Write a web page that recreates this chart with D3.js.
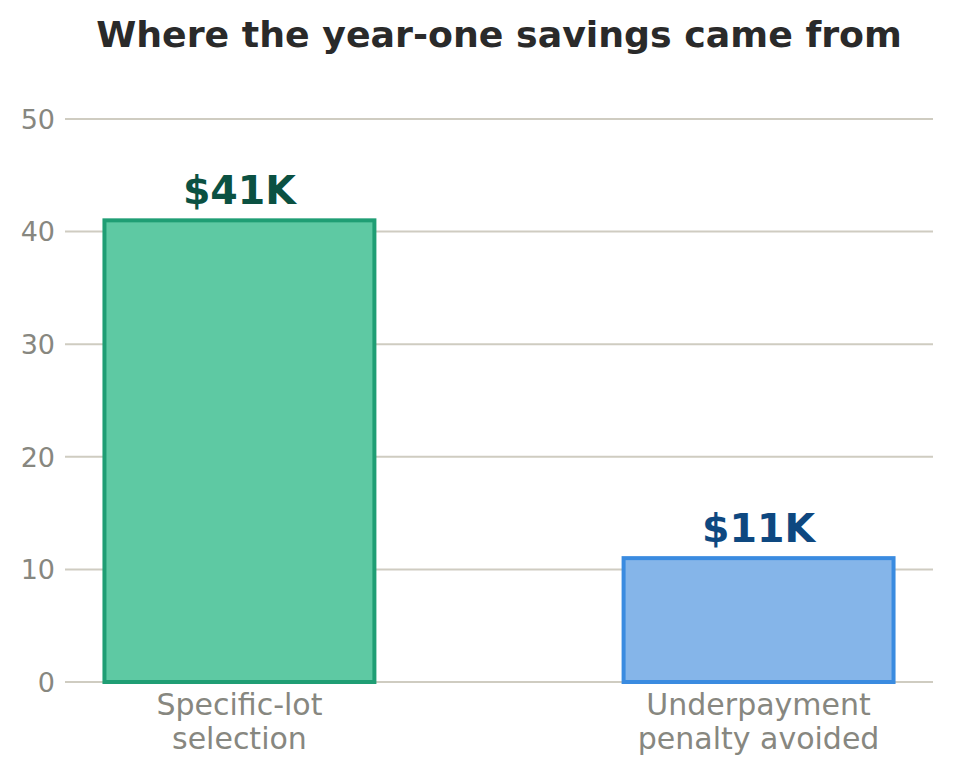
<!DOCTYPE html>
<html>
<head>
<meta charset="utf-8">
<script src="https://cdn.jsdelivr.net/npm/d3@7"></script>
<style>
  body { margin: 0; background: #fff; }
  svg text { font-family: "DejaVu Sans", sans-serif; }
</style>
</head>
<body>
<svg id="chart" width="953" height="774"></svg>
<script>
"use strict";

const categories = [["Specific-lot", "selection"], ["Underpayment", "penalty avoided"]];
const savings = [41, 11];
const valueLabels = ["$41K", "$11K"];
const yTicks = [0, 10, 20, 30, 40, 50];

const fillColors = ["#5ec9a3", "#85b5e9"];
const strokeColors = ["#1f9e74", "#3a8be0"];
const labelColors = ["#0b5142", "#0e4880"];

const plotLeft = 65, plotRight = 933, plotTop = 119, plotBottom = 682;

const svg = d3.select("svg#chart");

const keys = categories.map(c => c.join(" "));
const xScale = d3.scaleBand()
    .domain(keys)
    .range([plotLeft, plotRight])
    .paddingInner(0.48)
    .paddingOuter(0.076);
const yScale = d3.scaleLinear()
    .domain([0, 50])
    .range([plotBottom, plotTop]);

// gridlines
svg.selectAll("line.grid")
    .data(yTicks)
    .join("line")
    .attr("class", "grid")
    .attr("x1", plotLeft)
    .attr("x2", plotRight)
    .attr("y1", d => yScale(d))
    .attr("y2", d => yScale(d))
    .style("stroke", "#cfccc1")
    .style("stroke-width", 2);

// y tick labels
svg.selectAll("text.ytick")
    .data(yTicks)
    .join("text")
    .attr("class", "ytick")
    .attr("x", plotLeft - 10)
    .attr("y", d => yScale(d))
    .attr("dy", "0.36em")
    .attr("text-anchor", "end")
    .style("font-size", "27px")
    .style("fill", "#878780")
    .text(d => d);

const data = keys.map((k, i) => ({key: k, lines: categories[i], value: savings[i], label: valueLabels[i], i: i}));

// bars
svg.selectAll("rect.bar")
    .data(data)
    .join("rect")
    .attr("class", "bar")
    .attr("x", d => xScale(d.key))
    .attr("y", d => yScale(d.value))
    .attr("width", xScale.bandwidth())
    .attr("height", d => yScale(0) - yScale(d.value))
    .style("fill", d => fillColors[d.i])
    .style("stroke", d => strokeColors[d.i])
    .style("stroke-width", 4);

// value labels
svg.selectAll("text.value")
    .data(data)
    .join("text")
    .attr("class", "value")
    .attr("x", d => xScale(d.key) + xScale.bandwidth() / 2)
    .attr("y", d => yScale(d.value) - 16)
    .attr("text-anchor", "middle")
    .style("font-size", "39.5px")
    .style("font-weight", "bold")
    .style("fill", d => labelColors[d.i])
    .text(d => d.label);

// category labels
const catText = svg.selectAll("text.cat")
    .data(data)
    .join("text")
    .attr("class", "cat")
    .attr("text-anchor", "middle")
    .style("font-size", "30px")
    .style("fill", "#878780");
catText.selectAll("tspan")
    .data(d => d.lines.map(l => ({l: l, x: xScale(d.key) + xScale.bandwidth() / 2})))
    .join("tspan")
    .attr("x", d => d.x)
    .attr("y", (d, j) => plotBottom + 33 + j * 34)
    .text(d => d.l);

// title
svg.append("text")
    .attr("x", 499)
    .attr("y", 47)
    .attr("text-anchor", "middle")
    .style("font-size", "36.3px")
    .style("font-weight", "bold")
    .style("fill", "#2a2a2a")
    .text("Where the year-one savings came from");
</script>
</body>
</html>
